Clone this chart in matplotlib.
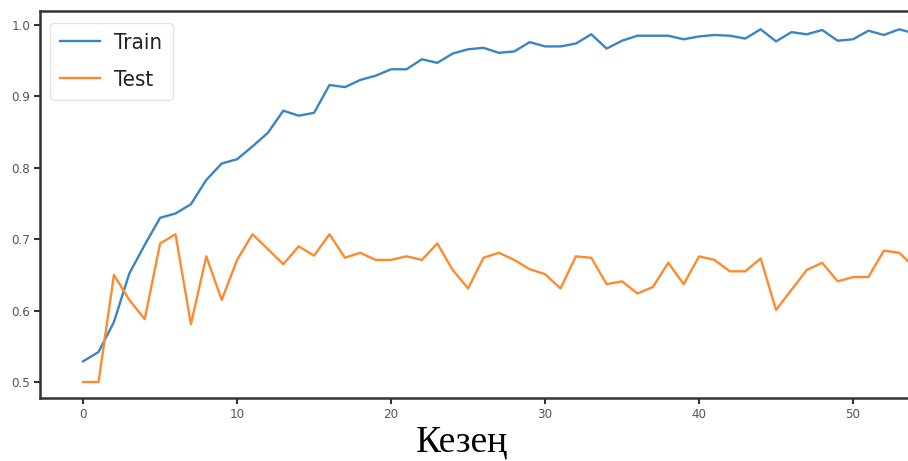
import matplotlib
matplotlib.use("Agg")
import matplotlib.pyplot as plt
import numpy as np

# Accuracy per epoch
epochs = list(range(55))
train_acc = [
    0.529, 0.542, 0.584, 0.652, 0.692, 0.730, 0.736, 0.749, 0.783, 0.806,
    0.812, 0.830, 0.849, 0.880, 0.873, 0.877, 0.916, 0.913, 0.923, 0.929,
    0.938, 0.938, 0.952, 0.947, 0.960, 0.966, 0.968, 0.961, 0.963, 0.976,
    0.970, 0.970, 0.974, 0.987, 0.967, 0.978, 0.985, 0.985, 0.985, 0.980,
    0.984, 0.986, 0.985, 0.981, 0.994, 0.977, 0.990, 0.987, 0.993, 0.978,
    0.980, 0.992, 0.986, 0.994, 0.988,
]
test_acc = [
    0.500, 0.500, 0.650, 0.615, 0.588, 0.694, 0.707, 0.581, 0.676, 0.615,
    0.671, 0.707, 0.686, 0.665, 0.690, 0.677, 0.707, 0.674, 0.681, 0.671,
    0.671, 0.676, 0.671, 0.694, 0.657, 0.631, 0.674, 0.681, 0.671, 0.658,
    0.651, 0.631, 0.676, 0.674, 0.637, 0.641, 0.624, 0.633, 0.667, 0.637,
    0.676, 0.671, 0.655, 0.655, 0.673, 0.601, 0.629, 0.657, 0.667, 0.641,
    0.647, 0.647, 0.684, 0.681, 0.660,
]
series_names = ["Train", "Test"]
x_label = "Кезең"

fig = plt.figure(figsize=(9.08, 4.61), dpi=100)
ax = fig.add_axes([40 / 908, 1 - 398 / 461, 1 - 40 / 908, (398 - 11) / 461])

ax.plot(epochs, train_acc, color="#3a84c4", lw=1.7, label=series_names[0])
ax.plot(epochs, test_acc, color="#ff8a2e", lw=1.7, label=series_names[1])

ax.set_xlim(-2.8, 53.57)
ax.set_ylim(0.4776, 1.0196)
ax.set_xticks([0, 10, 20, 30, 40, 50])
ax.set_yticks([0.5, 0.6, 0.7, 0.8, 0.9, 1.0])

for side in ("left", "top", "bottom"):
    ax.spines[side].set_linewidth(1.8)
    ax.spines[side].set_color("#333333")
ax.spines["right"].set_visible(False)

ax.tick_params(axis="both", which="major", length=4, width=1.5, color="#333333",
               labelcolor="#555555", labelsize=9.5, pad=3)
for lbl in ax.get_xticklabels() + ax.get_yticklabels():
    lbl.set_fontstretch("condensed")

ax.set_xlabel(x_label, fontfamily="Liberation Serif", fontsize=27, labelpad=2)
ax.xaxis.set_label_coords((462 - 40) / 868, -0.07)

leg = ax.legend(loc="upper left", fontsize=16, frameon=True, fancybox=True,
                edgecolor="#dddddd", borderpad=0.45, handlelength=1.8,
                handletextpad=0.65, labelspacing=0.75, borderaxespad=0.45,
                bbox_to_anchor=(0.0, 0.995))
for t in leg.get_texts():
    t.set_fontstretch("condensed")
    t.set_color("#222222")

fig.savefig("out.png", dpi=100)
